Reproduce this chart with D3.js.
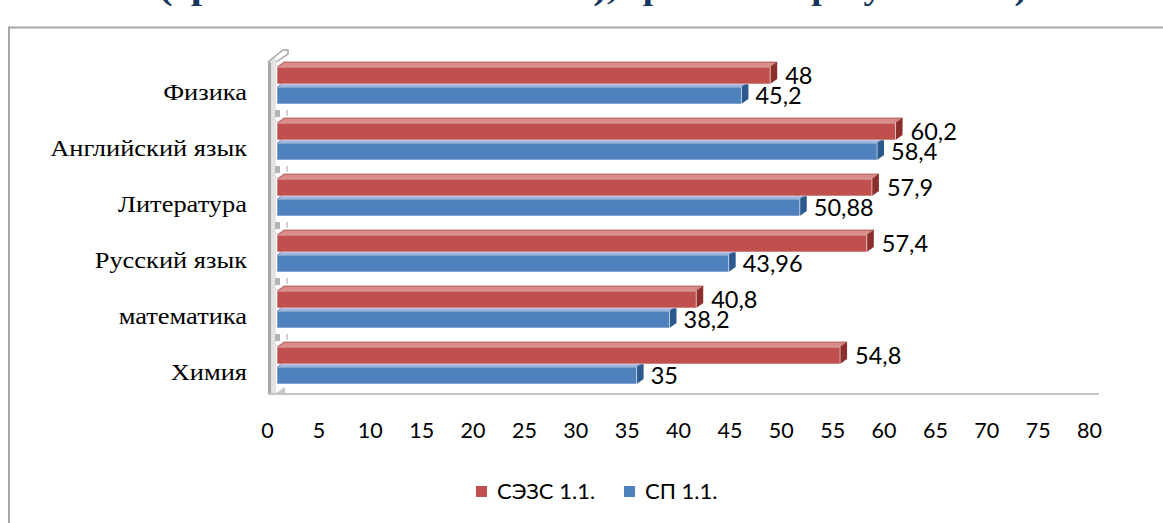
<!DOCTYPE html>
<html><head><meta charset="utf-8">
<script src="https://cdn.jsdelivr.net/npm/d3@7"></script>
<style>html,body{margin:0;padding:0;background:#fff;overflow:hidden}</style>
</head><body>
<svg id="c" width="1163" height="523"></svg>
<script>
const categories = ["Физика","Английский язык","Литература","Русский язык","математика","Химия"];
const seriesNames = ["СЭЗС 1.1.","СП 1.1."];
const sezs = [48,60.2,57.9,57.4,40.8,54.8];
const sp = [45.2,58.4,50.88,43.96,38.2,35];
const ticks = [0,5,10,15,20,25,30,35,40,45,50,55,60,65,70,75,80];
const titleParts = ["(сравнение баллов ЕГЭ)", ", сравнение результатов)"];
const colors = {red:"#C0504D", blue:"#4F81BD"};

const svg = d3.select("#c");
const x = d3.scaleLinear().domain([0,80]).range([277,1099]);
const yb = d3.scaleBand().domain(categories).range([58,394]).padding(0);
const DX = 7, DY = -5, BH = 17;
const fmt = v => String(v).replace(".", ",");

// title (cut off at top of the picture)
const tt = svg.append("text").attr("y",-1)
  .style("font-family","'Liberation Serif','Times New Roman',serif").style("font-weight","bold")
  .style("font-size","34px").style("fill","#17365D");
tt.append("tspan").attr("x",159).attr("textLength",448).attr("lengthAdjust","spacingAndGlyphs").text(titleParts[0]);
tt.append("tspan").attr("x",607).attr("textLength",420).attr("lengthAdjust","spacingAndGlyphs").text(titleParts[1]);

// outer frame
svg.append("path").attr("d","M9,523V27.5H1163").attr("fill","none")
  .attr("stroke","#a6a6a6").attr("stroke-width",2);

// wall
const g = svg.append("g");
g.append("rect").attr("x",268).attr("y",62).attr("width",3).attr("height",333).attr("fill","#a6a6a6");
g.append("rect").attr("x",271).attr("y",58).attr("width",5).attr("height",335).attr("fill","#e3e3e3");
g.append("path").attr("d","M268,62 L283,50 L288,50 L288,54 L276,62").attr("fill","none").attr("stroke","#a6a6a6").attr("stroke-width",1.5);
// floor line
g.append("line").attr("x1",268).attr("x2",x(80)).attr("y1",394).attr("y2",394).attr("stroke","#c4c4c4").attr("stroke-width",2);
g.append("path").attr("d","M276,393 L285,387 L285,393Z").attr("fill","#c8c8c8");
// wall ticks between groups
categories.slice(1).forEach(c=>{
  const yy = yb(c);
  g.append("rect").attr("x",275).attr("y",yy-4).attr("width",5).attr("height",7).attr("fill","#b5b5b5");
  g.append("line").attr("x1",287).attr("x2",287).attr("y1",yy-4).attr("y2",yy+2).attr("stroke","#b5b5b5").attr("stroke-width",1.2);
});

function bar3d(sel, x0, x1, y, front, top, side){
  sel.append("path").attr("d",`M${x0},${y}L${x0+DX},${y+DY}L${x1+DX},${y+DY}L${x1},${y}Z`)
    .attr("fill",top).attr("stroke",side).attr("stroke-width",0.6);
  sel.append("path").attr("d",`M${x1},${y}L${x1+DX},${y+DY}L${x1+DX},${y+BH+DY}L${x1},${y+BH}Z`)
    .attr("fill",side);
  sel.append("rect").attr("x",x0).attr("y",y).attr("width",x1-x0).attr("height",BH)
    .attr("fill",front).attr("stroke","rgba(255,255,255,0.55)").attr("stroke-width",1);
}

const bars = svg.append("g");
categories.forEach((c,i)=>{
  const yy = yb(c);
  bar3d(bars, x(0), x(sp[i]), yy+29, colors.blue, "#9db6da", "#2d5a8e");
  bar3d(bars, x(0), x(sezs[i]), yy+9, colors.red, "#d98b89", "#8c2f2c");
});

// value labels
const lab = svg.append("g").style("font-family","Lato,'Open Sans',sans-serif").style("font-size","23.5px").style("fill","#000");
categories.forEach((c,i)=>{
  const yy = yb(c);
  lab.append("text").attr("x",x(sezs[i])+15).attr("y",yy+18).attr("dy","0.36em").text(fmt(sezs[i]));
  lab.append("text").attr("x",x(sp[i])+14).attr("y",yy+38).attr("dy","0.36em").text(fmt(sp[i]));
});

// category labels (horizontally stretched like the reference)
const cl = svg.append("g").style("font-family","'Liberation Serif','Times New Roman',serif").style("font-size","22.7px").style("fill","#000");
categories.forEach(c=>{
  cl.append("text").attr("transform",`translate(247,${yb(c)+35}) scale(1.165,1)`)
    .attr("dy","0.33em").attr("text-anchor","end").text(c);
});

// x axis tick labels
const ax = svg.append("g").attr("transform","translate(-10,430)")
  .call(d3.axisBottom(x).tickValues(ticks).tickSize(0).tickPadding(0).tickFormat(d=>d));
ax.select(".domain").remove();
ax.selectAll("text").attr("dy","0.36em").attr("y",0)
  .style("font-family","Lato,'Open Sans',sans-serif").style("font-size","21.5px").style("fill","#000");

// legend
const lg = svg.append("g").style("font-family","Lato,'Open Sans',sans-serif").style("font-size","22px");
const legItems = [{n:seriesNames[0],c:colors.red,x:476},{n:seriesNames[1],c:colors.blue,x:624}];
legItems.forEach(d=>{
  lg.append("rect").attr("x",d.x).attr("y",486).attr("width",11).attr("height",11).attr("fill",d.c);
  lg.append("text").attr("x",d.x+21).attr("y",491).attr("dy","0.36em").text(d.n);
});
</script>
</body></html>
